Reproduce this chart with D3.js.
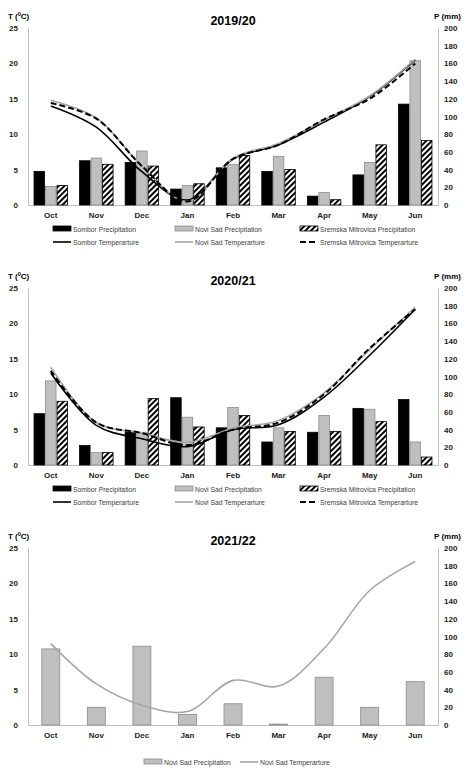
<!DOCTYPE html>
<html><head><meta charset="utf-8">
<script src="https://cdn.jsdelivr.net/npm/d3@7"></script>
<style>body{margin:0;background:#fff}svg{font-family:"Liberation Sans",Arial,sans-serif}</style>
</head><body><svg id="c" width="474" height="776"></svg>
<script>
const months=["Oct","Nov","Dec","Jan","Feb","Mar","Apr","May","Jun"];
const tTicks=[0,5,10,15,20,25];
const pTicks=[0,20,40,60,80,100,120,140,160,180,200];
// 2019/20
const p1Sombor=[38,50,48,18,42,38,10,34,114];
const p1Novi=[21,53,61,22,46,55,14,48,163];
const p1Srem=[22,46,44,24,56,40,6,68,73];
const t1Sombor=[14.0,11.0,4.7,0.7,6.5,8.5,11.7,15.3,20.5];
const t1Novi=[14.8,12.3,5.5,0.5,6.6,8.7,12.0,15.4,20.6];
const t1Srem=[14.4,12.2,5.5,0.5,6.5,8.5,12.1,15.0,20.0];
// 2020/21
const p2Sombor=[58,22,38,76,42,26,37,64,74];
const p2Novi=[95,14,37,54,65,42,56,63,26];
const p2Srem=[72,14,75,43,56,38,38,49,9];
const t2Sombor=[13.0,5.6,3.7,2.6,5.0,5.7,9.6,15.5,22.0];
const t2Novi=[13.8,6.0,4.5,3.2,5.2,6.3,10.2,16.3,22.3];
const t2Srem=[13.3,6.0,4.5,2.8,5.0,6.0,10.0,16.5,22.0];
// 2021/22
const p3Novi=[86,20,89,12,24,1,54,20,49];
const t3Novi=[11.5,5.8,2.8,1.9,6.3,5.5,10.8,19.0,23.1];

const svg=d3.select("#c");
const defs=svg.append("defs");
const pat=defs.append("pattern").attr("id","hatch").attr("patternUnits","userSpaceOnUse").attr("width",4).attr("height",4).attr("patternTransform","rotate(45)");
pat.append("rect").attr("width",4).attr("height",4).attr("fill","#fff");
pat.append("rect").attr("width",2).attr("height",4).attr("fill","#000");

const styles={
 sombor:{fill:"#000",stroke:"#000",line:"#000",dash:null,w:1.6},
 novi:{fill:"#bfbfbf",stroke:"#8c8c8c",line:"#a6a6a6",dash:null,w:1.6},
 srem:{fill:"url(#hatch)",stroke:"#000",line:"#000",dash:"6,3",w:2}
};

function panel(y0,title,bars,lines,legendItems,barW){
 const x0=28,x1=438,top=y0+28,bot=y0+205;
 const g=svg.append("g");
 const x=d3.scaleBand().domain(months).range([x0,x1]);
 const yT=d3.scaleLinear().domain([0,25]).range([bot,top]);
 const yP=d3.scaleLinear().domain([0,200]).range([bot,top]);
 g.append("text").attr("x",233).attr("y",y0+25).attr("text-anchor","middle").attr("font-weight","bold").attr("font-size",12.5).text(title);
 g.append("text").attr("x",8).attr("y",y0+19).attr("font-size",8).attr("font-weight","bold").html('T (<tspan dy="-3" font-size="5.5">0</tspan><tspan dy="3">C)</tspan>');
 g.append("text").attr("x",461).attr("y",y0+19).attr("text-anchor","end").attr("font-size",8).attr("font-weight","bold").text("P (mm)");
 const la=g.append("g").attr("transform",`translate(${x0},0)`).call(d3.axisLeft(yT).tickValues(tTicks).tickSize(0).tickPadding(10));
 const ra=g.append("g").attr("transform",`translate(${x1},0)`).call(d3.axisRight(yP).tickValues(pTicks).tickSize(0).tickPadding(6));
 const ba=g.append("g").attr("transform",`translate(0,${bot})`).call(d3.axisBottom(x).tickSize(0).tickPadding(7));
 [la,ra,ba].forEach(a=>{a.selectAll("path").attr("stroke","#bfbfbf");a.selectAll("text").attr("font-size",8).attr("font-weight","bold").attr("fill","#222");});
 const n=bars.length,gap=1;
 bars.forEach((b,i)=>{
  const s=styles[b.key];
  g.selectAll(null).data(b.vals).join("rect")
   .attr("x",(d,j)=>x(months[j])+x.bandwidth()/2-(n*barW+(n-1)*gap)/2+i*(barW+gap))
   .attr("y",d=>yP(d)).attr("width",barW).attr("height",d=>bot-yP(d))
   .attr("fill",s.fill).attr("stroke",s.stroke).attr("stroke-width",0.8);
 });
 const line=d3.line().x((d,j)=>x(months[j])+x.bandwidth()/2).y(d=>yT(d)).curve(d3.curveCatmullRom.alpha(0.5));
 lines.forEach(l=>{
  const s=styles[l.key];
  g.append("path").attr("d",line(l.vals)).attr("fill","none").attr("stroke",s.line).attr("stroke-width",s.w).attr("stroke-dasharray",s.dash);
 });
 legendItems.forEach(it=>{
  const s=styles[it.key];
  const lg=g.append("g").attr("transform",`translate(${it.x},${y0+it.y})`);
  if(it.type==="bar") lg.append("rect").attr("x",0).attr("y",-3).attr("width",18).attr("height",5).attr("fill",s.fill).attr("stroke",s.stroke).attr("stroke-width",0.8);
  else lg.append("line").attr("x1",0).attr("x2",18).attr("y1",0).attr("y2",0).attr("stroke",s.line).attr("stroke-width",s.w).attr("stroke-dasharray",s.dash);
  lg.append("text").attr("x",20).attr("y",2.5).attr("font-size",6.8).attr("fill","#404040").text(it.label);
 });
}
function legend3(){
 return [
  {key:"sombor",type:"bar",x:53,y:229,label:"Sombor Precipitation"},
  {key:"novi",type:"bar",x:175,y:229,label:"Novi Sad Precipitation"},
  {key:"srem",type:"bar",x:300,y:229,label:"Sremska Mitrovica Precipitation"},
  {key:"sombor",type:"line",x:53,y:242,label:"Sombor Temperarture"},
  {key:"novi",type:"line",x:175,y:242,label:"Novi Sad Temperarture"},
  {key:"srem",type:"line",x:300,y:242,label:"Sremska Mitrovica Temperarture"}];
}
panel(0,"2019/20",[{key:"sombor",vals:p1Sombor},{key:"novi",vals:p1Novi},{key:"srem",vals:p1Srem}],
 [{key:"sombor",vals:t1Sombor},{key:"novi",vals:t1Novi},{key:"srem",vals:t1Srem}],legend3(),10.5);
panel(260,"2020/21",[{key:"sombor",vals:p2Sombor},{key:"novi",vals:p2Novi},{key:"srem",vals:p2Srem}],
 [{key:"sombor",vals:t2Sombor},{key:"novi",vals:t2Novi},{key:"srem",vals:t2Srem}],legend3(),10.5);
panel(520,"2021/22",[{key:"novi",vals:p3Novi}],[{key:"novi",vals:t3Novi}],
 [{key:"novi",type:"bar",x:144,y:242,label:"Novi Sad Precipitation"},
  {key:"novi",type:"line",x:240,y:242,label:"Novi Sad Temperarture"}],18);
</script></body></html>
